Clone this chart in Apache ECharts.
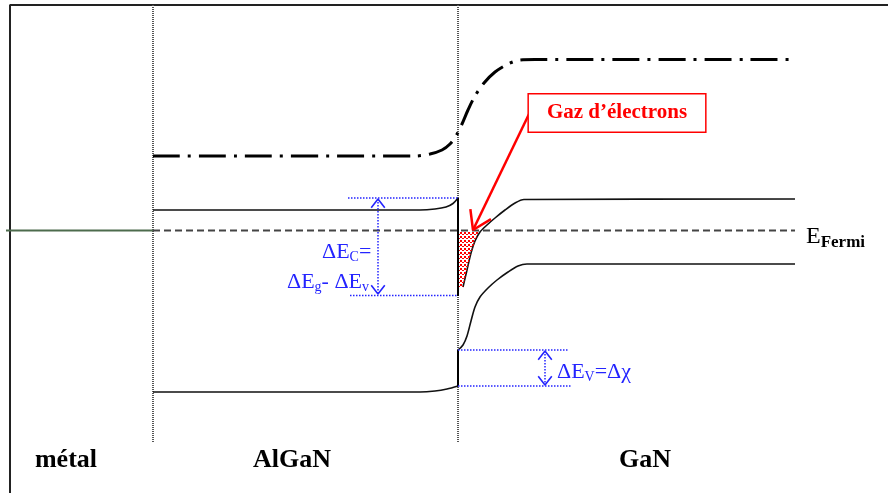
<!DOCTYPE html>
<html><head><meta charset="utf-8">
<script src="https://cdn.jsdelivr.net/npm/echarts@6/dist/echarts.min.js"></script>
<style>html,body{margin:0;padding:0;background:#fff}#c{width:888px;height:493px}</style>
</head><body><div id="c"></div>
<script>
// ---- data (diagram units = reference pixel grid) ----
const frameLine = [[10,493],[10,5],[888,5]];
const dividerMetal = [[153,5],[153,443]];
const dividerHetero = [[458,5],[458,443]];
const fermiMetal = [[6,230.5],[153,230.5]];
const fermiSemi = [[153,230.5],[795,230.5]];
const vacuumLevel = [[153,156],[415,156],[430,154],[442,150],[450,144],[456,136],[462,124],[468,110],[475,96],[484,83],[495,72],[508,64],[520,60],[535,59.5],[795,59.5]];
const conductionAlGaN = [[153,210],[420,210],[435,209],[446,207],[453,203.5],[458,198]];
const conductionStep = [[458,198],[458,296]];
const conductionGaN = [[463,287],[467,270],[471,253],[475,241],[480,232],[487,225],[495,218],[505,210],[515,203],[524,199.5],[795,199]];
const valenceAlGaN = [[153,392],[420,392],[435,391],[447,389],[458,386]];
const valenceStep = [[458,350],[458,386]];
const valenceGaN = [[458,350],[463,345],[467,336],[471,321],[475,307],[480,297],[488,288],[497,280],[508,272],[518,266],[527,264],[795,264]];
const electronGas = [[459,231],[479,231],[475,241],[471,253],[467,270],[463,287],[459,287]];
const dEcGuides = [[[348,198],[458,198]],[[350,295.5],[458,295.5]]];
const dEcArrow = {x:378, top:199, bottom:294};
const dEvGuides = [[[458,350],[568,350]],[[458,386],[572,386]]];
const dEvArrow = {x:545, top:351, bottom:385};
const gasArrow = {from:[530,112], to:[473,230]};
const regionNames = ['métal','AlGaN','GaN'];
const regionCenters = [[66,460],[292,460],[645,460]];
const gasLabel = 'Gaz d\u2019électrons';
const gasLabelCenter = [617,113];
const fermiLabelAnchor = [806,237];
const dEcLabelAnchors = [[322,252],[287,282]];
const dEvLabelAnchor = [557,372];

// ---- helpers ----
function chevron(tip, back, len, halfAngleDeg){
  const dx = back[0]-tip[0], dy = back[1]-tip[1];
  const L = Math.hypot(dx,dy), ux = dx/L, uy = dy/L;
  const a = halfAngleDeg*Math.PI/180;
  const r = (c,s)=>[tip[0]+len*(ux*c - uy*s), tip[1]+len*(ux*s + uy*c)];
  return [r(Math.cos(a),Math.sin(a)), tip, r(Math.cos(a),-Math.sin(a))];
}
function lineSeries(data, color, width, type, z, smooth){
  return {type:'line', data:data, symbol:'none', silent:true, z:z||2, smooth:smooth||false,
    lineStyle:{color:color, width:width, type:type||'solid', cap:'butt', opacity:1}};
}
const BLUE = '#2424ff', RED = '#ff0000';
const serif = '"Liberation Serif","DejaVu Serif",serif';

const series = [];
series.push(lineSeries(frameLine,'#222',2,'solid',1));
series.push(lineSeries(dividerMetal,'#555',2,[1,1],1));
series.push(lineSeries(dividerHetero,'#555',2,[1,1],1));
series.push(lineSeries(fermiMetal,'#4d6b4d',2,'solid',2));
series.push(lineSeries(fermiSemi,'#444',2,[7,4],2));
series.push(lineSeries(vacuumLevel,'#000',3,[27,8,3,8],3,0.3));
series.push(lineSeries(conductionAlGaN,'#111',1.6,'solid',3,0.3));
series.push(lineSeries(conductionStep,'#000',2,'solid',3));
series.push(lineSeries(conductionGaN,'#111',1.6,'solid',3,0.3));
series.push(lineSeries(valenceAlGaN,'#111',1.6,'solid',3,0.3));
series.push(lineSeries(valenceStep,'#000',2,'solid',3));
series.push(lineSeries(valenceGaN,'#111',1.6,'solid',3,0.3));
// blue guides and arrows
[dEcGuides, dEvGuides].forEach(g=>g.forEach(seg=>series.push(lineSeries(seg,BLUE,1.5,[1.5,1.5],4))));
[dEcArrow, dEvArrow].forEach(a=>{
  const t=[a.x,a.top], b=[a.x,a.bottom];
  series.push(lineSeries([t,b],BLUE,1.5,[1.5,1.5],4));
  series.push(lineSeries(chevron(t,b,11,38),BLUE,1.6,'solid',4));
  series.push(lineSeries(chevron(b,t,11,38),BLUE,1.6,'solid',4));
});
// red arrow
series.push(lineSeries([gasArrow.from,gasArrow.to],RED,2.5,'solid',6));
series.push(lineSeries(chevron(gasArrow.to,gasArrow.from,21,33),RED,2.5,'solid',6));

// electron gas hatching
const pc = document.createElement('canvas'); pc.width=4; pc.height=4;
const pctx = pc.getContext('2d'); pctx.fillStyle=RED; pctx.fillRect(0,0,2,2); pctx.fillRect(2,2,2,1);
series.push({type:'custom', silent:true, z:5, data:[0],
  renderItem:function(params, api){
    return {type:'polygon', shape:{points:electronGas.map(p=>api.coord(p))},
      style:{fill:{type:'pattern', image:pc, repeat:'repeat'}, stroke:null}};
  }});

// text labels
function textPoint(pos, label){ return {value:pos, label:Object.assign({show:true, position:[0,0], opacity:1}, label)}; }
const textData = [];
regionNames.forEach((n,i)=>textData.push(textPoint(regionCenters[i],{formatter:n, align:'center', verticalAlign:'middle',
  fontFamily:serif, fontWeight:'bold', fontSize:26, color:'#000'})));
textData.push(textPoint(gasLabelCenter,{formatter:gasLabel, align:'center', verticalAlign:'middle',
  fontFamily:serif, fontWeight:'bold', fontSize:21, color:RED, backgroundColor:'#fff',
  borderColor:RED, borderWidth:1.5, padding:[8,18,8,18]}));
const subRich = (color,base,sub,bold)=>({
  m:{fontFamily:serif, fontSize:base, color:color, lineHeight:base+4},
  s:{fontFamily:serif, fontSize:sub, color:color, fontWeight:bold?'bold':'normal', padding:[Math.round(sub*0.7),0,0,0], lineHeight:sub+4}
});
textData.push(textPoint(fermiLabelAnchor,{formatter:'{m|E}{s|Fermi}', align:'left', verticalAlign:'middle',
  rich:subRich('#000',24,17,true)}));
textData.push(textPoint(dEcLabelAnchors[0],{formatter:'{m|ΔE}{s|C}{m|=}', align:'left', verticalAlign:'middle',
  rich:subRich(BLUE,22,14)}));
textData.push(textPoint(dEcLabelAnchors[1],{formatter:'{m|ΔE}{s|g}{m|- ΔE}{s|v}', align:'left', verticalAlign:'middle',
  rich:subRich(BLUE,22,14)}));
textData.push(textPoint(dEvLabelAnchor,{formatter:'{m|ΔE}{s|V}{m|=Δχ}', align:'left', verticalAlign:'middle',
  rich:subRich(BLUE,22,14)}));
series.push({type:'scatter', data:textData, symbolSize:0, silent:true, z:10, itemStyle:{opacity:1}});

const chart = echarts.init(document.getElementById('c'));
chart.setOption({
  animation:false, backgroundColor:'#fff',
  grid:{left:0,right:0,top:0,bottom:0},
  xAxis:{type:'value', min:0, max:888, show:false},
  yAxis:{type:'value', min:0, max:493, inverse:true, show:false},
  series:series
});
</script></body></html>
